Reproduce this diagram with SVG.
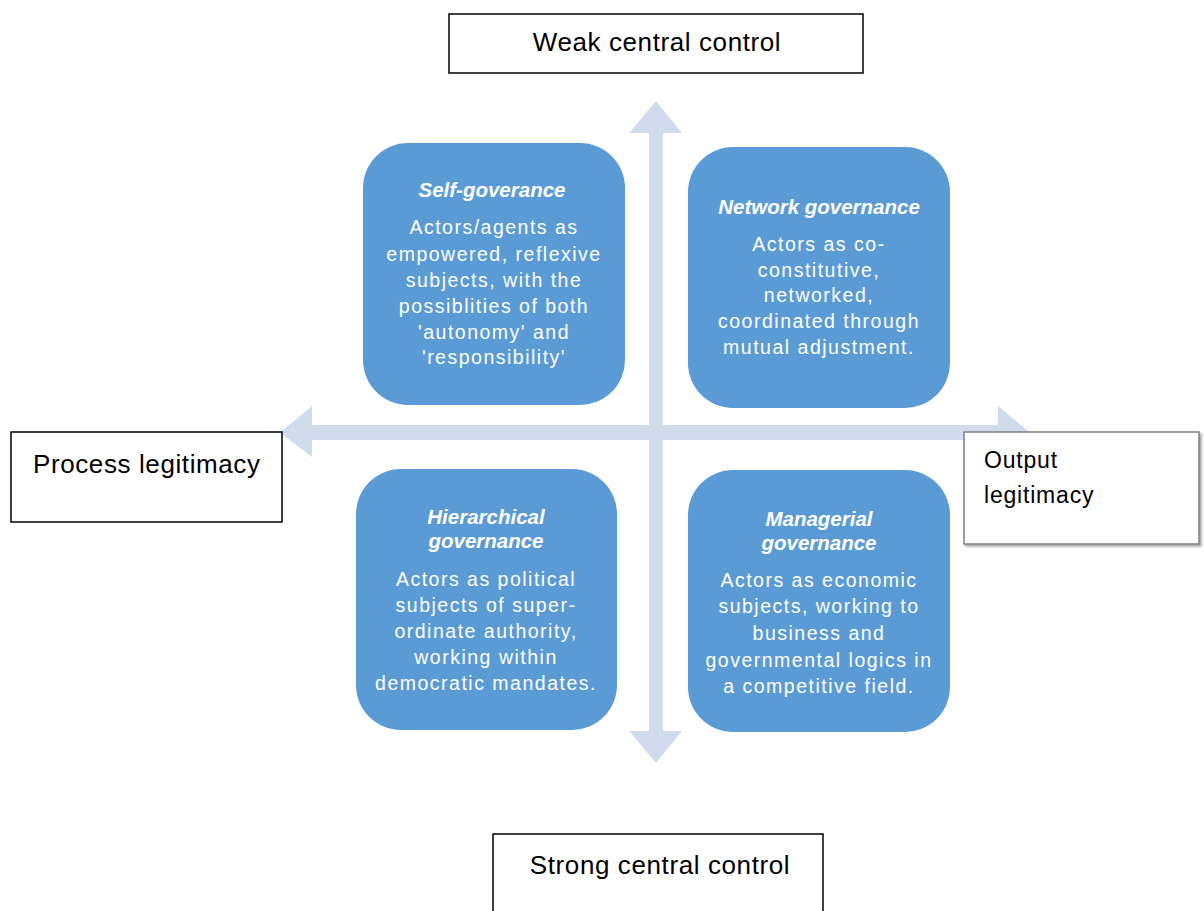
<svg xmlns="http://www.w3.org/2000/svg" width="1204" height="911" viewBox="0 0 1204 911">
  <defs>
    <style>
      .axis { fill: #D0DCEE; }
      .quad { fill: #5B9BD5; }
      .label-box { fill: #FFFFFF; stroke: #000000; stroke-width: 1.5; }
      .label-box-grey { fill: #FFFFFF; stroke: #7F7F7F; stroke-width: 1.5; }
      .label { font-family: "Liberation Sans", Arial, sans-serif; font-size: 26px; fill: #000000; letter-spacing: 0.6px; }
      .label-sm { font-family: "Liberation Sans", Arial, sans-serif; font-size: 23px; fill: #000000; letter-spacing: 0.8px; }
      .title { font-family: "Liberation Sans", Arial, sans-serif; font-size: 20.5px; font-weight: bold; font-style: italic; fill: #FFFFFF; text-anchor: middle; }
      .body { font-family: "Liberation Sans", Arial, sans-serif; font-size: 19.5px; fill: #FFFFFF; text-anchor: middle; letter-spacing: 1.5px; }
    </style>
    <filter id="shadow" x="-5%" y="-5%" width="115%" height="115%">
      <feDropShadow dx="2" dy="2" stdDeviation="1.2" flood-color="#000000" flood-opacity="0.35"/>
    </filter>
  </defs>

  <rect width="1204" height="911" fill="#FFFFFF"/>

  <!-- axes: double-headed arrows crossing at the centre -->
  <g id="connectors">
    <polygon class="axis" points="649,133 629,133 656,101 682,133 663,133 663,731 682,731 656,763 629,731 649,731"/>
    <polygon class="axis" points="312,425 312,406 280,432.5 312,457 312,440 998,440 998,457 1030,432.5 998,406 998,425"/>
  </g>

  <!-- axis labels -->
  <g id="weak-central-control">
    <rect class="label-box" x="449" y="14" width="414" height="59"/>
    <text class="label" x="657" y="51" text-anchor="middle">Weak central control</text>
  </g>
  <g id="strong-central-control">
    <rect class="label-box" x="493" y="834" width="330" height="90"/>
    <text class="label" x="660" y="874" text-anchor="middle">Strong central control</text>
  </g>
  <g id="process-legitimacy">
    <rect class="label-box" x="11" y="432" width="271" height="90"/>
    <text class="label" x="33" y="473">Process legitimacy</text>
  </g>
  <g id="output-legitimacy">
    <rect class="label-box-grey" x="964" y="432" width="235" height="112" filter="url(#shadow)"/>
    <text class="label-sm" x="984" y="468">Output</text>
    <text class="label-sm" x="984" y="503">legitimacy</text>
  </g>

  <!-- quadrants -->
  <g id="self-governance">
    <rect class="quad" x="363" y="143" width="262" height="262" rx="45"/>
    <text class="title" x="492" y="197">Self-goverance</text>
    <text class="body" x="494" y="234">Actors/agents as</text>
    <text class="body" x="494" y="261">empowered, reflexive</text>
    <text class="body" x="494" y="287">subjects, with the</text>
    <text class="body" x="494" y="313">possiblities of both</text>
    <text class="body" x="494" y="339">'autonomy' and</text>
    <text class="body" x="494" y="364">'responsibility'</text>
  </g>

  <g id="network-governance">
    <rect class="quad" x="688" y="147" width="262" height="261" rx="45"/>
    <text class="title" x="819" y="214">Network governance</text>
    <text class="body" x="819" y="251">Actors as co-</text>
    <text class="body" x="819" y="277">constitutive,</text>
    <text class="body" x="819" y="302">networked,</text>
    <text class="body" x="819" y="328">coordinated through</text>
    <text class="body" x="819" y="354">mutual adjustment.</text>
  </g>

  <g id="hierarchical-governance">
    <rect class="quad" x="356" y="469" width="261" height="261" rx="45"/>
    <text class="title" x="486" y="524">Hierarchical</text>
    <text class="title" x="486" y="548">governance</text>
    <text class="body" x="486" y="586">Actors as political</text>
    <text class="body" x="486" y="612">subjects of super-</text>
    <text class="body" x="486" y="638">ordinate authority,</text>
    <text class="body" x="486" y="664">working within</text>
    <text class="body" x="486" y="690">democratic mandates.</text>
  </g>

  <g id="managerial-governance">
    <rect class="quad" x="688" y="470" width="262" height="262" rx="45"/>
    <text class="title" x="819" y="526">Managerial</text>
    <text class="title" x="819" y="550">governance</text>
    <text class="body" x="819" y="587">Actors as economic</text>
    <text class="body" x="819" y="613">subjects, working to</text>
    <text class="body" x="819" y="640">business and</text>
    <text class="body" x="819" y="667">governmental logics in</text>
    <text class="body" x="819" y="693">a competitive field.</text>
  </g>
</svg>
